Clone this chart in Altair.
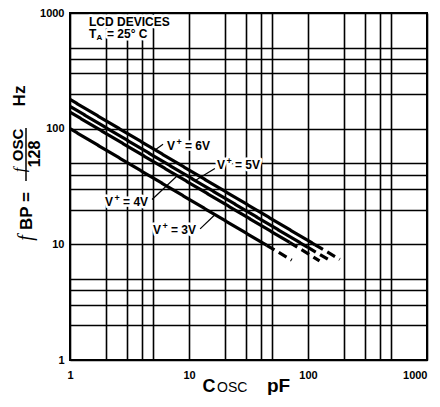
import altair as alt
import pandas as pd

# ---- data ----
voltages = ["3V", "4V", "5V", "6V"]
c_start = [1, 1, 1, 1]
f_start = [100, 139, 156, 179]
c_solid_end = [45, 70, 100, 115]
f_solid_end = [9.8, 10.4, 9.4, 9.9]
c_dash_end = [73, 125, 155, 185]
f_dash_end = [7.3, 7.2, 7.2, 7.4]

label_suffix = ["= 3V", "= 4V", "= 5V", "= 6V"]
label_c = [4.98, 1.97, 17.2, 6.53]      # left edge of each label
label_f = [13.4, 23.4, 48.9, 70.6]
leader_c1 = [12.4, 4.89, 16.5, 6.05]
leader_f1 = [13.6, 24.4, 45.2, 73.4]
leader_c2 = [16.5, 7.93, 11.2, 5.18]
leader_f2 = [18.0, 39.0, 35.5, 65.5]

grid_vals = [1, 2, 3, 4, 5, 10, 20, 30, 40, 50, 100, 200, 300, 400, 500, 1000]
tick_labels = [1, 10, 100, 1000]

rows = []
for i, v in enumerate(voltages):
    rows.append(dict(V=v, seg="solid", key=v + "s", C=c_start[i], F=f_start[i], o=0))
    rows.append(dict(V=v, seg="solid", key=v + "s", C=c_solid_end[i], F=f_solid_end[i], o=1))
    rows.append(dict(V=v, seg="dashed", key=v + "d", C=c_solid_end[i], F=f_solid_end[i], o=0))
    rows.append(dict(V=v, seg="dashed", key=v + "d", C=c_dash_end[i], F=f_dash_end[i], o=1))
df = pd.DataFrame(rows)

labels_df = pd.DataFrame(dict(t=label_suffix, C=label_c, F=label_f))
leaders_df = pd.DataFrame(dict(C=leader_c1, F=leader_f1, C2=leader_c2, F2=leader_f2))

FONT = "Liberation Sans"
lab_expr = "indexof(%s, datum.value) >= 0 ? format(datum.value, 'd') : ''" % str(tick_labels)

xscale = alt.Scale(type="log", domain=[1, 1000], nice=False)
yscale = alt.Scale(type="log", domain=[1, 1000], nice=False)

common_axis = dict(values=grid_vals, grid=True, gridColor="black", gridWidth=1.6, gridOpacity=1,
                   domain=False, ticks=False, labelExpr=lab_expr, labelFont=FONT,
                   labelFontWeight="bold", labelFontSize=11, labelColor="black",
                   labelOverlap=False, labelFlush=False, title=None)
xaxis = alt.Axis(labelPadding=9, labelAlign=alt.ExprRef("datum.value == 1000 ? 'right' : 'center'"),
                 **common_axis)
yaxis = alt.Axis(labelPadding=6, **common_axis)

X = alt.X("C:Q", scale=xscale, axis=xaxis)
Y = alt.Y("F:Q", scale=yscale, axis=yaxis)

lines = alt.Chart(df).mark_line(color="black", strokeWidth=3.2, strokeCap="butt").encode(
    x=X, y=Y, detail="key:N", order="o:Q",
    strokeDash=alt.StrokeDash("seg:N", scale=alt.Scale(domain=["solid", "dashed"], range=[[1, 0], [9, 5]]), legend=None),
)

XS = alt.X("C:Q", scale=xscale)
YS = alt.Y("F:Q", scale=yscale)


def vlabel(halo):
    st = dict(font=FONT, fontWeight="bold", align="left", baseline="middle")
    if halo:
        st.update(fill="white", stroke="white", strokeWidth=5, strokeJoin="round")
    else:
        st.update(color="black")
    base = alt.Chart(labels_df)
    v = base.mark_text(text="V", fontSize=12, dx=0, **st).encode(x=XS, y=YS)
    plus = base.mark_text(text="+", fontSize=9, dx=9.5, dy=-4, **st).encode(x=XS, y=YS)
    rest = base.mark_text(fontSize=12, dx=18, **st).encode(x=XS, y=YS, text="t:N")
    return [v, plus, rest]


leaders = alt.Chart(leaders_df).mark_rule(color="black", strokeWidth=1.2).encode(
    x=XS, y=YS, x2="C2:Q", y2="F2:Q")

one = pd.DataFrame({"a": [0]})


def txt(text, x, y, size, weight="bold", style="normal", font=FONT, angle=0,
        align="center", baseline="middle", halo=False):
    kw = dict(text=text, font=font, fontSize=size, fontWeight=weight, fontStyle=style,
              angle=angle, align=align, baseline=baseline)
    if halo:
        kw.update(fill="white", stroke="white", strokeWidth=5, strokeJoin="round")
    else:
        kw.update(color="black")
    return alt.Chart(one).mark_text(**kw).encode(x=alt.value(x), y=alt.value(y))


extras = []
# inset title with halo
for h in (True, False):
    extras.append(txt("LCD DEVICES", 19, 13, 12, align="left", baseline="alphabetic", halo=h))
    extras.append(txt("T", 19, 25, 12, align="left", baseline="alphabetic", halo=h))
    extras.append(txt("A", 26.5, 27, 8, align="left", baseline="alphabetic", halo=h))
    extras.append(txt("= 25\u00b0 C", 37, 25, 12, align="left", baseline="alphabetic", halo=h))

# y-axis title (rotated)
extras.append(txt("Hz", -50, 83, 17, angle=270))
extras.append(txt("OSC", -52, 132, 15, angle=270))
extras.append(txt("f", -50, 157, 16, weight="normal", style="italic", font="Liberation Serif", angle=270))
extras.append(alt.Chart(one).mark_rule(color="black", strokeWidth=1.5).encode(
    x=alt.value(-44), y=alt.value(115), y2=alt.value(168)))
extras.append(txt("128", -35, 141, 16, angle=270))
extras.append(txt("f", -44, 225, 20, weight="normal", style="italic", font="Liberation Serif", angle=270))
extras.append(txt("BP =", -43, 198, 17, angle=270))

# x-axis title
extras.append(txt("C", 139, 379, 18, baseline="alphabetic"))
extras.append(txt("OSC", 147, 379, 14, weight="normal", align="left", baseline="alphabetic"))
extras.append(txt("pF", 197, 379, 19, align="left", baseline="alphabetic"))

chart = alt.layer(lines, *vlabel(True), leaders, *vlabel(False), *extras).properties(
    width=357, height=347,
    padding={"left": 62, "top": 5, "right": 5, "bottom": 35},
    autosize=alt.AutoSizeParams(type="none"),
).configure_view(stroke="black", strokeWidth=2)

chart.save("out.html", embed_options={"renderer": "svg", "actions": False})
